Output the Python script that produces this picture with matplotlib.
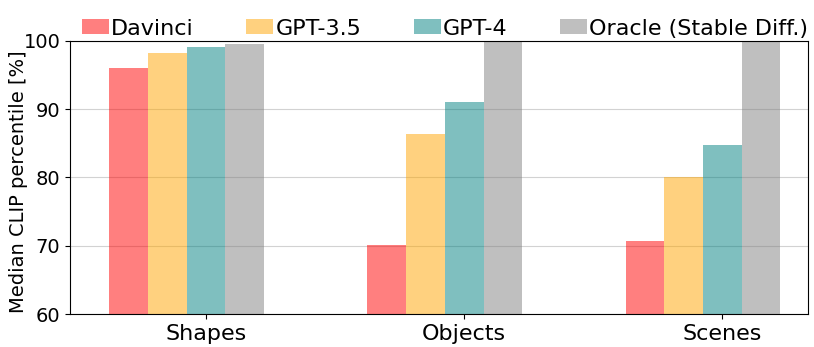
import matplotlib
matplotlib.use('Agg')
import matplotlib.pyplot as plt
import numpy as np

categories = ['Shapes', 'Objects', 'Scenes']
models = ['Davinci', 'GPT-3.5', 'GPT-4', 'Oracle (Stable Diff.)']
davinci = [96.0, 70.1, 70.7]
gpt35 = [98.2, 86.3, 80.0]
gpt4 = [99.0, 91.0, 84.8]
oracle = [99.5, 100.0, 100.0]
colors = ['red', 'orange', 'teal', 'gray']

values = [davinci, gpt35, gpt4, oracle]

fig = plt.figure(figsize=(8.14, 3.47), dpi=100)
ax = fig.add_axes([0.086, 0.094, 0.907, 0.789])

x = np.arange(len(categories))
w = 0.15
for i, (name, vals) in enumerate(zip(models, values)):
    ax.bar(x + (i - 2) * w, vals, w, color=colors[i], alpha=0.5, label=name)

ax.set_ylim(60, 100)
ax.set_xlim(-0.527, 2.333)
ax.set_xticks(x)
ax.set_xticklabels(categories, fontsize=16)
ax.set_yticks([60, 70, 80, 90, 100])
ax.tick_params(axis='y', labelsize=14)
ax.set_ylabel('Median CLIP percentile [%]', fontsize=14)
ax.yaxis.set_label_coords(-0.057, 0.485)
ax.yaxis.grid(True, color='gray', alpha=0.35)
ax.set_axisbelow(True)

ax.legend(loc='lower center', bbox_to_anchor=(0.508, 0.975), ncol=4, frameon=False,
          fontsize=16, handlelength=1.2, handleheight=0.65, handletextpad=0.1,
          columnspacing=2.37, borderaxespad=0.0)

fig.savefig('out.png', dpi=100)
